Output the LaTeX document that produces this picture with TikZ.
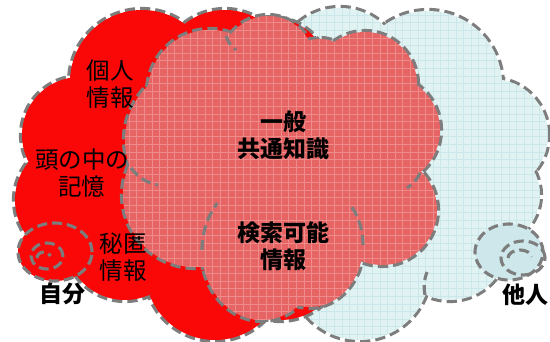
\documentclass[tikz,border=0pt]{standalone}
\usepackage{fontspec}
\newfontfamily\jp{Noto Sans CJK JP}
\definecolor{cred}{RGB}{250,8,8}
\definecolor{cpink}{RGB}{230,100,100}
\definecolor{cpinkg}{RGB}{238,140,140}
\definecolor{cblue}{RGB}{225,242,243}
\definecolor{cblueg}{RGB}{203,231,233}
\definecolor{cblue2}{RGB}{206,231,234}
\definecolor{cline}{RGB}{125,125,125}
\tikzset{
  edge/.style={draw=cline, line width=6.2pt, dash pattern=on 10pt off 5pt},
  curl/.style={draw=cline, line width=3.1pt, dash pattern=on 10pt off 5pt},
  lab/.style={font=\jp\fontsize{23.5}{27}\selectfont, align=center, inner sep=0pt},
  blab/.style={font=\jp\bfseries\fontsize{23}{27}\selectfont, align=center, inner sep=0pt}
}
\def\bluelist{340/72/64, 428/85/74, 492/135/56, 490/195/50, 450/242/58, 360/270/70, 410/170/90}
\def\redlist{142/82/72, 80/135/58, 75/200/60, 125/240/60, 215/270/70, 280/255/65, 225/75/65, 272/75/57, 180/170/95}
\def\midlist{210/92/62, 268/62/46, 320/75/36, 365/84/52, 385/130/55, 382/210/55, 195/195/72, 200/140/75, 285/165/100}
\begin{document}
\begin{tikzpicture}[x=1pt,y=-1pt]
\useasboundingbox (0,0) rectangle (550,342);
\fill[white] (0,0) rectangle (550,342);
% ---- blue cloud (other) ----
\foreach \x/\y/\r in \bluelist \path[edge] (\x,\y) circle[radius=\r pt];
\foreach \x/\y/\r in \bluelist \fill[cblue] (\x,\y) circle[radius=\r pt];
\begin{scope}
  \clip \foreach \x/\y/\r in \bluelist {(\x,\y) circle[radius=\r pt]};
  \draw[cblueg, line width=0.8pt, step=7.6pt] (250,0) grid (550,342);
\end{scope}
\coordinate (bc1) at (425,295);
\coordinate (bc2) at (427,272);
\draw[curl] (bc1) to[bend left=15] (bc2);
% ---- red cloud (self) ----
\foreach \x/\y/\r in \redlist \path[edge] (\x,\y) circle[radius=\r pt];
\foreach \x/\y/\r in \redlist \fill[cred] (\x,\y) circle[radius=\r pt];
% ---- middle cloud ----
\foreach \x/\y/\r in \midlist \path[edge] (\x,\y) circle[radius=\r pt];
\path[edge] (262,250) ellipse[x radius=60pt, y radius=70pt];
\path[edge] (310,245) ellipse[x radius=53pt, y radius=62pt];
\foreach \x/\y/\r in \midlist \fill[cpink] (\x,\y) circle[radius=\r pt];
\fill[cpink] (262,250) ellipse[x radius=60pt, y radius=70pt];
\fill[cpink] (310,245) ellipse[x radius=53pt, y radius=62pt];
\begin{scope}
  \clip \foreach \x/\y/\r in \midlist {(\x,\y) circle[radius=\r pt]}
        (262,250) ellipse[x radius=60pt, y radius=70pt]
        (310,245) ellipse[x radius=53pt, y radius=62pt];
  \draw[cpinkg, line width=0.7pt, step=7.6pt] (100,0) grid (460,342);
\end{scope}
% interior curls of the middle cloud
\draw[curl] (202,250) arc[start angle=180, end angle=138, x radius=60pt, y radius=70pt];
\draw[curl] (363,245) arc[start angle=0, end angle=38, x radius=53pt, y radius=62pt];
\coordinate (mc1) at (131,168);
\coordinate (mc2) at (158,185);
\draw[curl] (mc1) to[bend right=20] (mc2);
\coordinate (mc3) at (420,173);
\coordinate (mc4) at (407,188);
\draw[curl] (mc3) to[bend left=15] (mc4);
\coordinate (mc5) at (226,36);
\coordinate (mc6) at (236,50);
\draw[curl] (mc5) to[bend right=15] (mc6);
% ---- self / other marks ----
\draw[curl, fill=cred] (55,252) ellipse[x radius=37pt, y radius=29pt];
\draw[curl] (47,256) ellipse[x radius=16pt, y radius=13pt];
\draw[curl] (37,258) arc[start angle=180, end angle=20, x radius=7pt, y radius=6pt];
\draw[curl, fill=cblue2] (509,252) ellipse[x radius=34pt, y radius=28pt];
\draw[curl] (523,258) ellipse[x radius=22pt, y radius=17pt];
\draw[curl] (508,258) arc[start angle=180, end angle=10, x radius=12pt, y radius=8pt];
% ---- labels ----
\node[lab]  (kojin)  at (110,84)  {個人\\情報};
\node[lab]  (kioku)  at (82,173)  {頭の中の\\記憶};
\node[lab]  (hitoku) at (123,257) {秘匿\\情報};
\node[blab] (jibun)  at (62,294)  {自分};
\node[blab] (ippan)  at (283,135) {一般\\共通知識};
\node[blab] (kensaku) at (283,246) {検索可能\\情報};
\node[blab] (tanin)  at (525,295) {他人};
\end{tikzpicture}
\end{document}
